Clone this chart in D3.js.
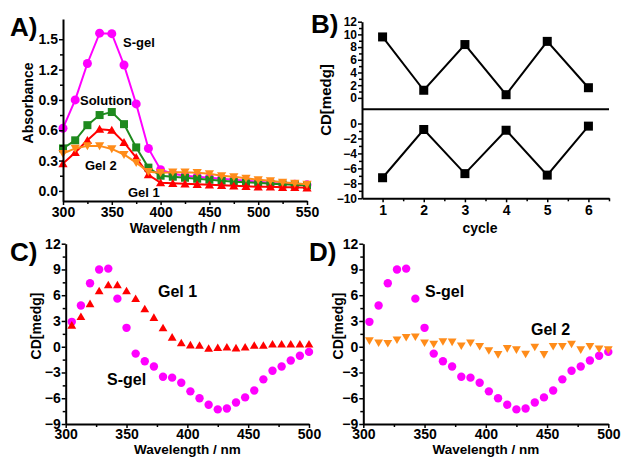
<!DOCTYPE html>
<html>
<head>
<meta charset="utf-8">
<script src="https://cdn.jsdelivr.net/npm/d3@7"></script>
<style>
  html, body { margin: 0; padding: 0; background: #fff; }
  svg { display: block; font-family: "Liberation Sans", Arial, sans-serif; font-weight: bold; }
</style>
</head>
<body>
<svg id="chart" width="622" height="457"></svg>
<script>
// ---------- DATA ----------
// Panel A: absorbance spectra
const aWavelength = [300, 312.5, 325, 337.5, 350, 362.5, 375, 387.5, 400, 412.5, 425, 437.5, 450, 462.5, 475, 487.5, 500, 512.5, 525, 537.5, 550];
const aSgel     = [0.62, 0.90, 1.26, 1.56, 1.555, 1.245, 0.86, 0.42, 0.21, 0.17, 0.15, 0.14, 0.13, 0.12, 0.11, 0.10, 0.09, 0.08, 0.07, 0.065, 0.06];
const aSolution = [0.42, 0.50, 0.65, 0.75, 0.78, 0.66, 0.43, 0.23, 0.15, 0.14, 0.13, 0.12, 0.11, 0.10, 0.09, 0.085, 0.08, 0.07, 0.065, 0.06, 0.055];
const aGel1     = [0.27, 0.38, 0.50, 0.61, 0.60, 0.48, 0.33, 0.16, 0.08, 0.075, 0.07, 0.065, 0.06, 0.055, 0.05, 0.045, 0.04, 0.04, 0.035, 0.035, 0.03];
const aGel2     = [0.37, 0.42, 0.445, 0.445, 0.415, 0.36, 0.28, 0.19, 0.18, 0.185, 0.185, 0.18, 0.17, 0.15, 0.14, 0.125, 0.11, 0.10, 0.085, 0.075, 0.065];
const aXTicks = [300, 350, 400, 450, 500, 550];
const aYTicks = [0.0, 0.3, 0.6, 0.9, 1.2, 1.5];

// Panel B: CD switching over cycles
const bCycle  = [1, 2, 3, 4, 5, 6];
const bUpper  = [9.6, 1.2, 8.4, 0.5, 8.9, 1.6];
const bLower  = [-7.25, -0.8, -6.7, -0.9, -6.9, -0.35];
const bUpperTicks = [0, 2, 4, 6, 8, 10, 12];
const bLowerTicks = [-10, -8, -6, -4, -2, 0];

// Panels C and D: CD spectra
const cdWavelength = [305, 312.5, 320, 327.5, 335, 342.5, 350, 357.5, 365, 372.5, 380, 387.5, 395, 402.5, 410, 417.5, 425, 432.5, 440, 447.5, 455, 462.5, 470, 477.5, 485, 492.5, 500];
const cdSgel = [2.9, 4.8, 7.4, 9.0, 9.1, 5.6, 2.2, -0.8, -1.7, -2.3, -3.5, -3.6, -4.2, -5.2, -6.0, -6.75, -7.3, -7.2, -6.5, -5.9, -5.1, -3.8, -2.8, -2.3, -1.6, -1.05, -0.6];
const cdGel1 = [2.5, 3.5, 5.0, 6.5, 7.2, 7.2, 6.5, 5.6, 4.4, 3.4, 2.2, 1.1, 0.45, 0.2, 0.15, -0.2, -0.1, -0.05, -0.15, -0.05, 0.15, 0.15, 0.3, 0.3, 0.3, 0.3, 0.3];
const cdGel2 = [0.7, 0.45, 0.4, 0.8, 1.1, 1.15, 0.45, 0.3, 0.6, 0.55, 0.1, 0.45, 0.05, -0.45, -0.9, -0.2, -0.35, -0.85, -0.05, -0.9, 0.05, 0.05, 0.3, -0.35, 0.05, -0.25, -0.35];
const cdXTicks = [300, 350, 400, 450, 500];
const cdYTicks = [-9, -6, -3, 0, 3, 6, 9, 12];

const COLORS = { sgel: "#ff00ff", solution: "#1e8a1e", gel1: "#ff0000", gel2: "#ff8c1a", black: "#000" };

// ---------- HELPERS ----------
const svg = d3.select("#chart");

function styleAxis(g, fontSize) {
  g.select(".domain").attr("stroke", "#000").attr("stroke-width", 2);
  g.selectAll(".tick line").attr("stroke", "#000").attr("stroke-width", 1.5);
  g.selectAll(".tick text").attr("fill", "#000").style("font-size", fontSize + "px").style("font-weight", "bold")
    .style("font-family", '"Liberation Sans", Arial, sans-serif');
}
function midpoints(arr) {
  const out = [];
  for (let i = 0; i < arr.length - 1; i++) out.push((arr[i] + arr[i + 1]) / 2);
  return out;
}
function drawXAxis(x, y0, ticks, fmt, fontSize, extraMinor, pad) {
  const minor = midpoints(ticks).concat(extraMinor || []);
  const gm = svg.append("g").attr("transform", `translate(0,${y0})`)
    .call(d3.axisBottom(x).tickValues(minor).tickFormat("").tickSize(3).tickSizeOuter(0));
  styleAxis(gm, fontSize);
  gm.select(".domain").remove();
  const g = svg.append("g").attr("transform", `translate(0,${y0})`)
    .call(d3.axisBottom(x).tickValues(ticks).tickFormat(fmt).tickSize(4).tickPadding(pad == null ? 3 : pad).tickSizeOuter(0));
  styleAxis(g, fontSize);
  return g;
}
function drawYAxis(y, x0, ticks, fmt, fontSize) {
  const minor = midpoints(ticks);
  const gm = svg.append("g").attr("transform", `translate(${x0},0)`)
    .call(d3.axisLeft(y).tickValues(minor).tickFormat("").tickSize(3).tickSizeOuter(0));
  styleAxis(gm, fontSize);
  gm.select(".domain").remove();
  const g = svg.append("g").attr("transform", `translate(${x0},0)`)
    .call(d3.axisLeft(y).tickValues(ticks).tickFormat(fmt).tickSize(4).tickPadding(1).tickSizeOuter(0));
  styleAxis(g, fontSize);
  return g;
}
function label(text, x, y, size, opts) {
  opts = opts || {};
  const t = svg.append("text").attr("x", x).attr("y", y).text(text)
    .style("font-size", size + "px").attr("fill", "#000")
    .attr("text-anchor", opts.anchor || "start");
  if (opts.rotate) t.attr("transform", `rotate(-90,${x},${y})`);
  return t;
}
function drawMarkers(xs, ys, x, y, shape, color, size) {
  const g = svg.append("g");
  xs.forEach((w, i) => {
    const cx = x(w), cy = y(ys[i]);
    if (shape === "circle") {
      g.append("circle").attr("cx", cx).attr("cy", cy).attr("r", size).attr("fill", color);
    } else if (shape === "square") {
      g.append("rect").attr("x", cx - size).attr("y", cy - size).attr("width", size * 2).attr("height", size * 2).attr("fill", color);
    } else if (shape === "up" || shape === "down") {
      const s = size;
      const pts = shape === "up"
        ? [[cx, cy - s * 1.05], [cx - s * 1.1, cy + s * 0.85], [cx + s * 1.1, cy + s * 0.85]]
        : [[cx, cy + s * 1.05], [cx - s * 1.1, cy - s * 0.85], [cx + s * 1.1, cy - s * 0.85]];
      g.append("path").attr("d", "M" + pts.map(p => p.join(",")).join("L") + "Z").attr("fill", color);
    }
  });
}
function drawLine(xs, ys, x, y, color, width) {
  svg.append("path").datum(xs.map((w, i) => [w, ys[i]]))
    .attr("d", d3.line().x(d => x(d[0])).y(d => y(d[1])))
    .attr("fill", "none").attr("stroke", color).attr("stroke-width", width);
}

// ---------- PANEL A ----------
{
  const x = d3.scaleLinear().domain([300, 550]).range([63, 307]);
  const y = d3.scaleLinear().domain([-0.1, 1.7]).range([201, 19]);
  const series = [
    [aSgel, COLORS.sgel, "circle", 4.5],
    [aSolution, COLORS.solution, "square", 4],
    [aGel1, COLORS.gel1, "up", 4.2],
    [aGel2, COLORS.gel2, "down", 4.2]
  ];
  series.forEach(s => { drawLine(aWavelength, s[0], x, y, s[1], 2); drawMarkers(aWavelength, s[0], x, y, s[2], s[1], s[3]); });
  drawXAxis(x, 201, aXTicks, d3.format("d"), 14, [], 2);
  drawYAxis(y, 63, aYTicks, d3.format(".1f"), 14);
  label("A)", 10, 36, 26);
  label("Absorbance", 33, 103, 14, { rotate: true, anchor: "middle" });
  label("Wavelength / nm", 185, 233, 14, { anchor: "middle" });
  label("S-gel", 123, 47, 13);
  label("Solution", 80, 105, 13);
  label("Gel 2", 85, 170, 13);
  label("Gel 1", 128, 197, 13);
}

// ---------- PANEL B ----------
{
  const x = d3.scaleLinear().domain([0.5, 6.5]).range([362, 609]);
  const yU = d3.scaleLinear().domain([-1.8, 12]).range([109.3, 21.7]);
  const yL = d3.scaleLinear().domain([-10, 1.9]).range([198.3, 109.3]);
  drawLine(bCycle, bUpper, x, yU, "#000", 2);
  drawLine(bCycle, bLower, x, yL, "#000", 2);
  drawMarkers(bCycle, bUpper, x, yU, "square", "#000", 4.5);
  drawMarkers(bCycle, bLower, x, yL, "square", "#000", 4.5);
  // separator line between the two layers
  svg.append("line").attr("x1", x(0.5)).attr("x2", x(6.5)).attr("y1", yU(-1.8)).attr("y2", yU(-1.8))
    .attr("stroke", "#000").attr("stroke-width", 2);
  drawYAxis(yU, 362, bUpperTicks, d3.format("d"), 12);
  drawYAxis(yL, 362, bLowerTicks, d3.format("d"), 12);
  drawXAxis(x, 198.3, bCycle, d3.format("d"), 14, [6.5], 3);
  label("B)", 311, 33, 26);
  label("CD[medg]", 331, 100, 15, { rotate: true, anchor: "middle" });
  label("cycle", 480, 233, 14, { anchor: "middle" });
}

// ---------- PANELS C & D ----------
function cdPanel(x0, x1, other, otherColor, otherShape, letter, letterX, ylabX, labels) {
  const x = d3.scaleLinear().domain([300, 500]).range([x0, x1]);
  const y = d3.scaleLinear().domain([-9, 12]).range([424, 243.7]);
  drawMarkers(cdWavelength, cdSgel, x, y, "circle", COLORS.sgel, 4.2);
  drawMarkers(cdWavelength, other, x, y, otherShape, otherColor, 4);
  drawXAxis(x, 424, cdXTicks, d3.format("d"), 14, [], 1.5);
  drawYAxis(y, x0, cdYTicks, d3.format("d"), 14);
  label(letter, letterX, 261, 26);
  label("CD[medg]", ylabX, 326, 14, { rotate: true, anchor: "middle" });
  label("Wavelength / nm", (x0 + x1) / 2, 454, 13.5, { anchor: "middle" });
  labels.forEach(l => label(l[0], l[1], l[2], 16));
}
cdPanel(65.7, 309, cdGel1, COLORS.gel1, "up", "C)", 10, 41, [["Gel 1", 158, 297], ["S-gel", 107, 385]]);
cdPanel(363.3, 608.3, cdGel2, COLORS.gel2, "down", "D)", 309, 343, [["S-gel", 425, 297], ["Gel 2", 531, 335]]);
</script>
</body>
</html>
